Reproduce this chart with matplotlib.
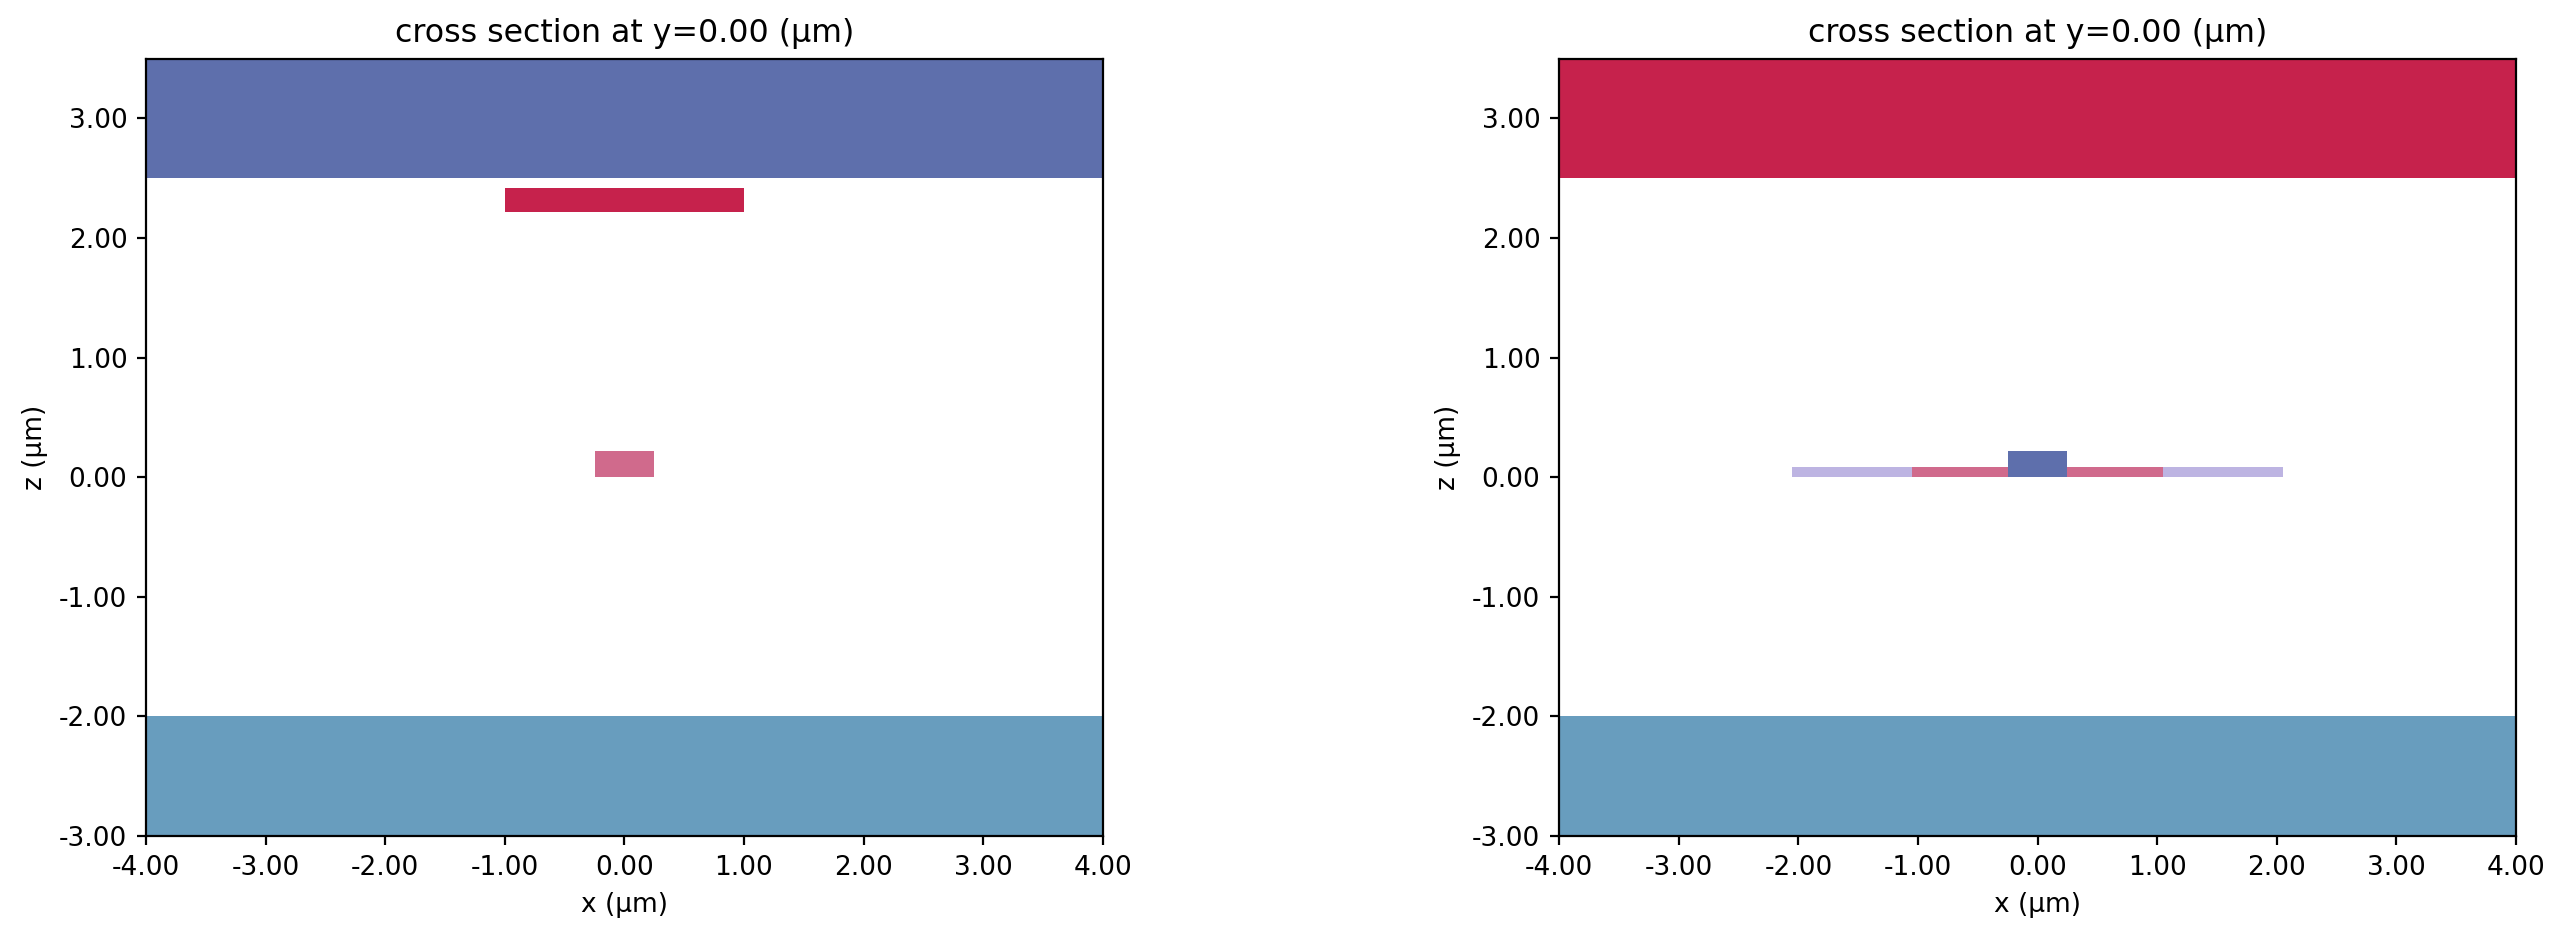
import matplotlib.pyplot as plt
from matplotlib.patches import Rectangle

plt.rcParams["font.size"] = 9.5
plt.rcParams["xtick.major.size"] = 3.3
plt.rcParams["ytick.major.size"] = 3.3

# structure geometry (um): x min, x max, z min, z max
left_x0 = [-10.0, -10.0, -1.0, -0.25]
left_x1 = [10.0, 10.0, 1.0, 0.25]
left_z0 = [2.5, -10.0, 2.22, 0.0]
left_z1 = [10.0, -2.0, 2.42, 0.22]
left_colors = ["#5e6fac", "#689dbe", "#c6224c", "#d06a8c"]

right_x0 = [-10.0, -10.0, -2.05, -1.05, -0.25]
right_x1 = [10.0, 10.0, 2.05, 1.05, 0.25]
right_z0 = [2.5, -10.0, 0.0, 0.0, 0.0]
right_z1 = [10.0, -2.0, 0.085, 0.085, 0.22]
right_colors = ["#c6224c", "#689dbe", "#bdb4e2", "#d06a8c", "#5e6fac"]

x_lim = (-4.0, 4.0)
z_lim = (-3.0, 3.5)
x_ticks = [-4, -3, -2, -1, 0, 1, 2, 3, 4]
z_ticks = [-3, -2, -1, 0, 1, 2, 3]
title = "cross section at y=0.00 (μm)"


def plot_structures(ax, x0s, x1s, z0s, z1s, colors):
    for x0, x1, z0, z1, c in zip(x0s, x1s, z0s, z1s, colors):
        ax.add_patch(Rectangle((x0, z0), x1 - x0, z1 - z0, facecolor=c,
                               edgecolor="none", linewidth=0))
    ax.set_xlim(*x_lim)
    ax.set_ylim(*z_lim)
    ax.set_aspect("equal")
    ax.set_xticks(x_ticks)
    ax.set_yticks(z_ticks)
    ax.set_xticklabels([f"{t:.2f}" for t in x_ticks])
    ax.set_yticklabels([f"{t:.2f}" for t in z_ticks])
    ax.set_xlabel("x (μm)")
    ax.set_ylabel("z (μm)")
    ax.set_title(title)
    return ax


fig = plt.figure(figsize=(12.825, 4.695), dpi=200)
ax1 = fig.add_axes([0.0569, 0.110, 0.3731, 0.8275])
ax2 = fig.add_axes([0.6078, 0.110, 0.3731, 0.8275])

plot_structures(ax1, left_x0, left_x1, left_z0, left_z1, left_colors)
plot_structures(ax2, right_x0, right_x1, right_z0, right_z1, right_colors)

fig.savefig("out.png", dpi=200)
